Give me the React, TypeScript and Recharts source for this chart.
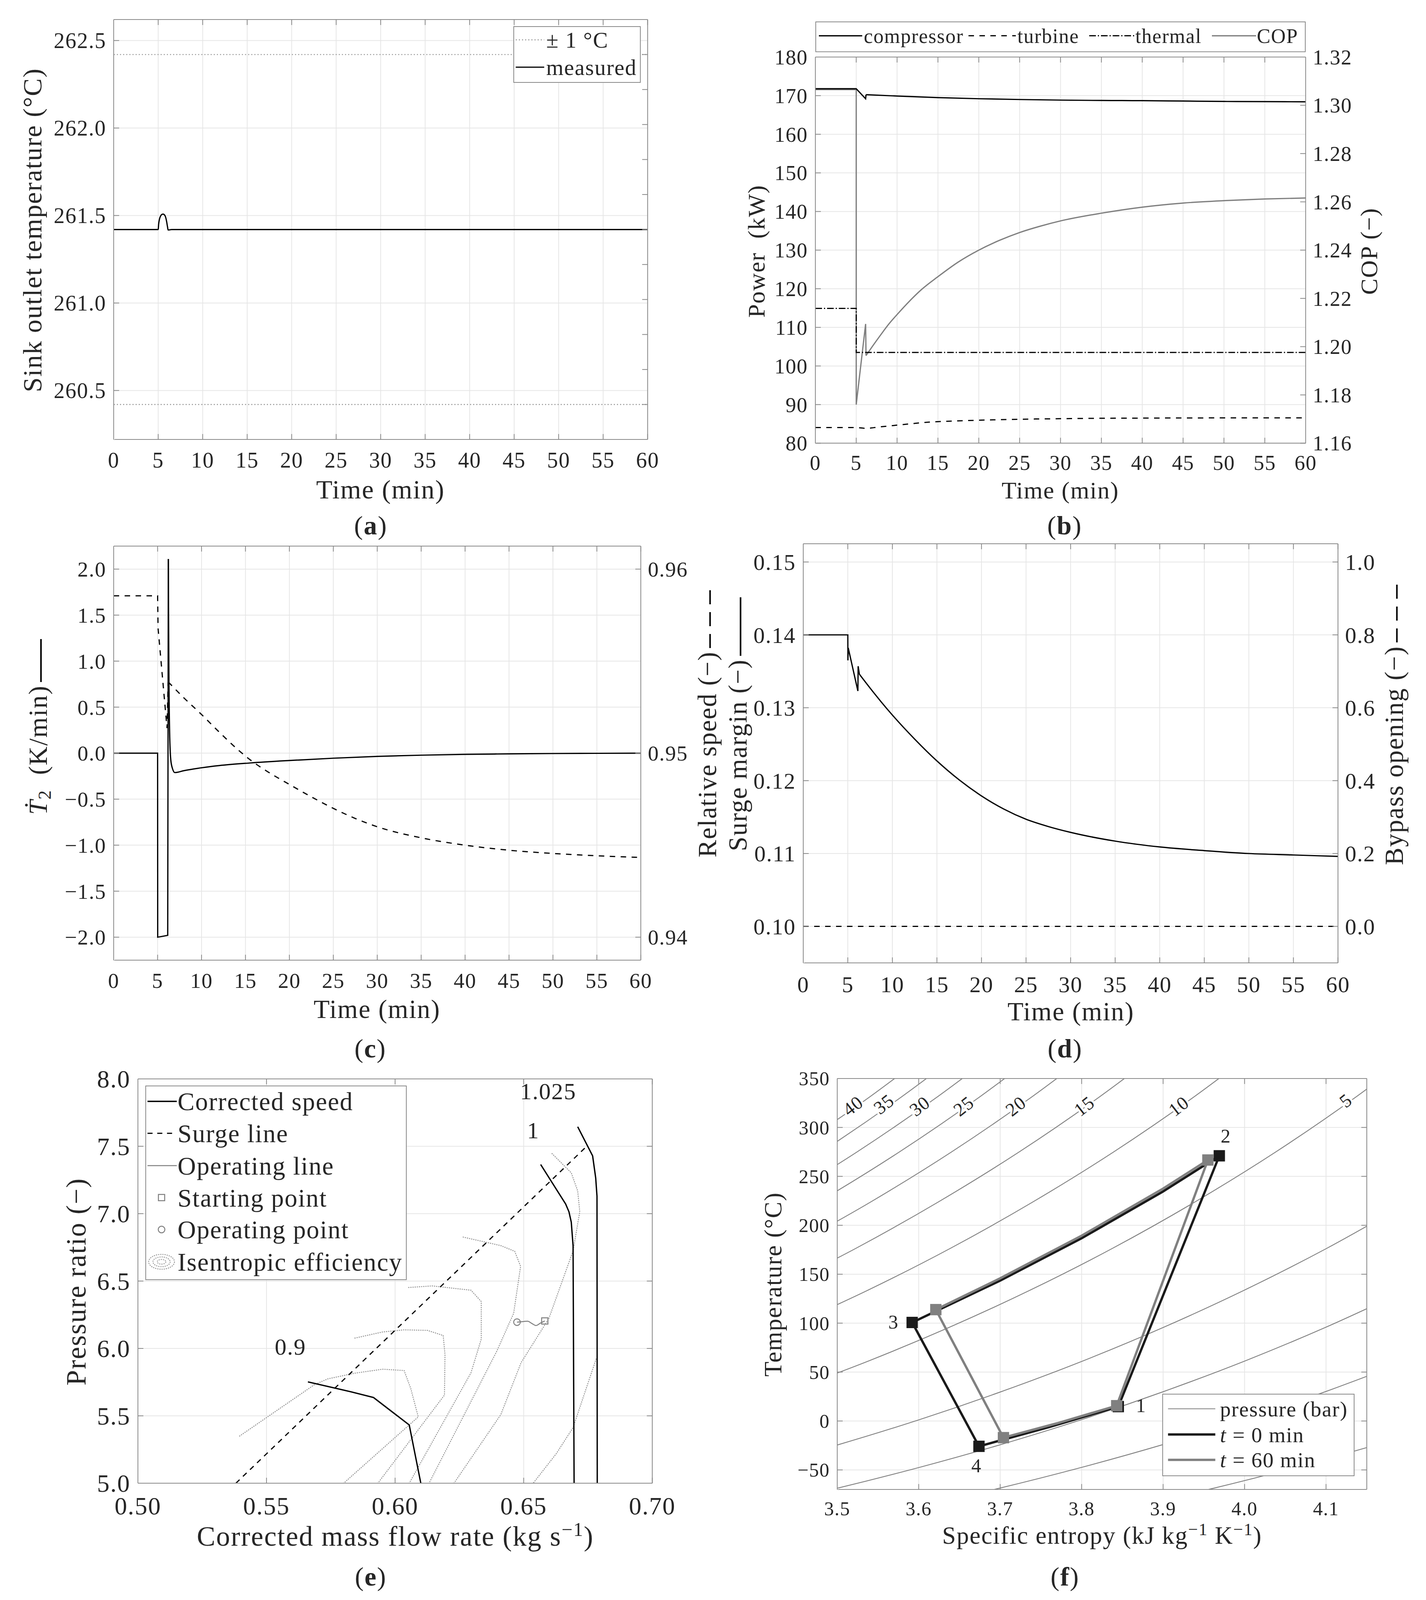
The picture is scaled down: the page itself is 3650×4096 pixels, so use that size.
import React from 'react';
import { ComposedChart, Line, XAxis, YAxis, CartesianGrid, Scatter, ReferenceDot, Legend } from 'recharts';

const FONT = "'Liberation Serif', 'Times New Roman', Times, serif";
const TXT = '#262626';
const AXC = '#8a8a8a';
const GRIDC = '#e6e6e6';
const BLK = '#000000';
const GRY = '#7f7f7f';
const LS = '0.03em';

// ================= DATA =================
const TIME_TICKS = [0, 5, 10, 15, 20, 25, 30, 35, 40, 45, 50, 55, 60];

// (a) sink outlet temperature
const A_Y_TICKS = [260.5, 261.0, 261.5, 262.0, 262.5];
const A_R_TICKS = [260.42, 260.62, 260.82, 261.02, 261.22, 261.42, 261.62, 261.82, 262.02, 262.22, 262.42];
const A_UPPER = [[0, 262.42], [60, 262.42]];
const A_LOWER = [[0, 260.42], [60, 260.42]];
const A_MEASURED = [[0, 261.42], [5.0, 261.42], [5.05, 261.45], [5.15, 261.48], [5.3, 261.5], [5.45, 261.507], [5.55, 261.508], [5.7, 261.504], [5.85, 261.488], [5.95, 261.465], [6.05, 261.435], [6.12, 261.417], [6.3, 261.418], [6.5, 261.42], [60, 261.42]];

// (b) power and COP
const B_L_TICKS = [80, 90, 100, 110, 120, 130, 140, 150, 160, 170, 180];
const B_R_TICKS = [1.16, 1.18, 1.2, 1.22, 1.24, 1.26, 1.28, 1.3, 1.32];
const B_COMPRESSOR_STEP = [[0, 171.8], [5, 171.8], [6.15, 169.2], [6.2, 170.25]];
const B_COMPRESSOR_DECAY = [[6.2, 170.25], [10, 169.9], [15, 169.5], [20, 169.2], [25, 169.0], [30, 168.85], [35, 168.75], [40, 168.7], [45, 168.6], [50, 168.5], [55, 168.45], [60, 168.4]];
const B_TURBINE = [[0, 84.05], [5, 84.05], [6.2, 83.85], [7.7, 84.18], [9.8, 84.63], [12, 85.1], [14, 85.47], [17, 85.75], [20, 85.95], [25, 86.2], [30, 86.35], [35, 86.45], [40, 86.5], [50, 86.55], [60, 86.55]];
const B_THERMAL = [[0, 114.9], [5, 114.9], [5, 103.5], [60, 103.5]];
const B_COP_STEP = [[0, 1.3065], [5, 1.3065], [5, 1.176], [6.15, 1.2094], [6.2, 1.1963]];
const B_COP_RISE = [[6.2, 1.1963], [7, 1.2002], [8, 1.2049], [9, 1.2094], [10, 1.2133], [11.5, 1.2188], [13, 1.2237], [15, 1.229], [17.5, 1.2351], [20, 1.24], [22.5, 1.244], [25, 1.2473], [27.5, 1.2499], [30, 1.2521], [35, 1.2553], [40, 1.2578], [45, 1.2595], [50, 1.2605], [55, 1.2612], [60, 1.2616]];

// (c) temperature rate and relative speed
const C_L_TICKS = [-2, -1.5, -1, -0.5, 0, 0.5, 1, 1.5, 2];
const C_R_TICKS = [0.94, 0.95, 0.96];
const C_T2DOT_STEP = [[0, 0], [5, 0], [5.01, -2.0], [6.15, -1.98], [6.22, 2.11]];
const C_T2DOT_DECAY = [[6.22, 2.11], [6.27, 1.08], [6.37, 0.215], [6.5, -0.073], [6.7, -0.17], [6.96, -0.211], [8, -0.19], [10, -0.159], [12, -0.135], [15.5, -0.107], [20, -0.08], [25, -0.055], [30, -0.035], [35, -0.022], [40, -0.013], [45, -0.008], [50, -0.004], [55, -0.002], [60, 0]];
const C_SPEED_STEP = [[0, 0.95855], [5, 0.95855], [5.05, 0.9568], [6.07, 0.95136], [6.2, 0.953875]];
const C_SPEED_DECAY = [[6.2, 0.953875], [8, 0.953], [10, 0.9521], [12, 0.95115], [14, 0.95025], [15.5, 0.94965], [17.5, 0.949], [20, 0.9483], [22.5, 0.947625], [25, 0.947], [27.5, 0.94645], [30, 0.946], [35, 0.9454], [40, 0.945], [45, 0.944725], [50, 0.94455], [55, 0.944425], [60, 0.94433]];

// (d) surge margin and bypass opening
const D_L_TICKS = [0.1, 0.11, 0.12, 0.13, 0.14, 0.15];
const D_R_TICKS = [0, 0.2, 0.4, 0.6, 0.8, 1.0];
const D_SURGE_STEP = [[0, 0.14], [5, 0.14], [5.01, 0.1365], [5.05, 0.1382], [6.13, 0.1323], [6.16, 0.1357], [6.3, 0.1346]];
const D_SURGE_DECAY = [[6.3, 0.1346], [7.5, 0.1327], [8.75, 0.1308], [10, 0.129], [12.5, 0.1257], [15, 0.1227], [17.5, 0.1201], [20, 0.1179], [22.5, 0.1161], [25, 0.1147], [27.5, 0.1137], [30, 0.1129], [35, 0.1117], [40, 0.1109], [45, 0.1104], [50, 0.11], [55, 0.1098], [60, 0.1096]];
const D_BYPASS = [[0, 0], [60, 0]];

// (e) compressor map
const E_X_TICKS = [0.5, 0.55, 0.6, 0.65, 0.7];
const E_Y_TICKS = [5, 5.5, 6, 6.5, 7, 7.5, 8];
const E_SPEED_090 = [[0.5661, 5.752], [0.5829, 5.678], [0.5916, 5.636], [0.6055, 5.432], [0.61, 5.0]];
const E_SPEED_100 = [[0.6566, 7.365], [0.6663, 7.072], [0.6676, 7.014], [0.6685, 6.937], [0.6692, 6.763], [0.6696, 5.0]];
const E_SPEED_1025 = [[0.671, 7.645], [0.6768, 7.429], [0.678, 7.265], [0.6785, 7.13], [0.6786, 5.0]];
const E_SURGE = [[0.5381, 5.0], [0.6745, 7.5]];
const E_EFF_1 = [[0.5394, 5.348], [0.5687, 5.732], [0.5738, 5.774], [0.5842, 5.816], [0.5952, 5.846], [0.6035, 5.836], [0.6061, 5.702], [0.609, 5.492], [0.58, 5.0]];
const E_EFF_2 = [[0.5842, 6.076], [0.5951, 6.122], [0.6035, 6.138], [0.6126, 6.134], [0.6187, 6.096], [0.6194, 5.954], [0.6192, 5.654], [0.5933, 5.0]];
const E_EFF_3 = [[0.6051, 6.452], [0.6144, 6.464], [0.6295, 6.432], [0.6335, 6.348], [0.6335, 6.069], [0.6295, 5.819], [0.6055, 5.0]];
const E_EFF_4 = [[0.6263, 6.827], [0.6411, 6.763], [0.6465, 6.721], [0.6488, 6.609], [0.6461, 6.261], [0.6396, 5.982], [0.6132, 5.0]];
const E_EFF_5 = [[0.6609, 7.448], [0.6685, 7.303], [0.671, 7.168], [0.6718, 7.014], [0.6692, 6.724], [0.6598, 6.223], [0.649, 5.895], [0.6411, 5.509], [0.6229, 5.0]];
const E_EFF_6 = [[0.6782, 5.924], [0.6692, 5.413], [0.6627, 5.22], [0.6537, 5.0]];
const E_OPERATING = [[0.6582, 6.204], [0.6565, 6.188], [0.6548, 6.17], [0.6533, 6.184], [0.6515, 6.202], [0.649, 6.198], [0.6474, 6.195]];
const E_START = [[0.6582, 6.204]];
const E_OPPOINT = [[0.6474, 6.195]];
const E_SPEED_LABELS: [string, number, number][] = [['1.025', 0.6595, 7.911], ['1', 0.6537, 7.621], ['0.9', 0.5593, 6.014]];

// (f) T-s diagram
const F_X_TICKS = [3.5, 3.6, 3.7, 3.8, 3.9, 4.0, 4.1];
const F_Y_TICKS = [-50, 0, 50, 100, 150, 200, 250, 300, 350];
const F_ISOBARS: number[][][] = [
  [[3.441, 274.8], [3.541, 331.9], [3.641, 394.9]],
  [[3.38, 223.3], [3.48, 274.8], [3.58, 331.9], [3.68, 394.9]],
  [[3.424, 223.3], [3.524, 274.8], [3.624, 331.9], [3.724, 394.9]],
  [[3.376, 176.5], [3.476, 223.3], [3.576, 274.8], [3.676, 331.9], [3.776, 394.9]],
  [[3.44, 176.5], [3.54, 223.3], [3.64, 274.8], [3.74, 331.9], [3.84, 394.9]],
  [[3.423, 134.2], [3.523, 176.5], [3.623, 223.3], [3.723, 274.8], [3.823, 331.9], [3.923, 394.9]],
  [[3.439, 95.9], [3.539, 134.2], [3.639, 176.5], [3.739, 223.3], [3.839, 274.8], [3.939, 331.9], [4.039, 394.9]],
  [[3.438, 29.9], [3.538, 61.2], [3.638, 95.9], [3.738, 134.2], [3.838, 176.5], [3.938, 223.3], [4.038, 274.8], [4.138, 331.9], [4.238, 394.9]],
  [[3.401, -47.6], [3.501, -24.3], [3.601, 1.4], [3.701, 29.9], [3.801, 61.2], [3.901, 95.9], [4.001, 134.2], [4.101, 176.5], [4.201, 223.3]],
  [[3.4, -87.7], [3.5, -68.7], [3.6, -47.6], [3.7, -24.3], [3.8, 1.4], [3.9, 29.9], [4.0, 61.2], [4.1, 95.9], [4.2, 134.2]],
  [[3.599, -87.7], [3.699, -68.7], [3.799, -47.6], [3.899, -24.3], [3.999, 1.4], [4.099, 29.9], [4.199, 61.2]],
  [[3.862, -87.7], [3.962, -68.7], [4.062, -47.6], [4.162, -24.3]],
];
const F_ISOBAR_LABELS: [string, number, number][] = [['40', 3.519, 322.3], ['35', 3.557, 324], ['30', 3.601, 322], ['25', 3.655, 322], ['20', 3.719, 322], ['15', 3.803, 322], ['10', 3.919, 322], ['5', 4.124, 327.7]];
const F_CYCLE_T0 = [[3.845, 14.7], [3.969, 271], [3.9, 234.6], [3.8, 186.8], [3.7, 143.5], [3.592, 100.7], [3.674, -25.9], [3.76, -6.2], [3.845, 14.7]];
const F_CYCLE_T60 = [[3.843, 15.6], [3.955, 266.7], [3.9, 237.5], [3.8, 189.4], [3.7, 145.8], [3.621, 113.8], [3.704, -17], [3.77, -2.3], [3.843, 15.6]];
const F_STATES_T0 = [[3.845, 14.7], [3.969, 271], [3.592, 100.7], [3.674, -25.9]];
const F_STATES_T60 = [[3.843, 15.6], [3.955, 266.7], [3.621, 113.8], [3.704, -17]];
const F_STATE_LABELS: [string, number, number][] = [['1', 3.873, 16], ['2', 3.977, 291.5], ['3', 3.569, 101.4], ['4', 3.671, -45.4]];

// ================= HELPERS =================
const pts = (a: number[][]) => a.map(([x, y]) => ({ x, y }));
type Fmt = ((v: number) => string) | null;
const fmt = (d: number) => (v: number) => (v < -1e-9 ? '\u2212' : '') + Math.abs(v).toFixed(d);
const TL = 14;
const txtStyle = (fs: number): React.CSSProperties => ({ fontFamily: FONT, fontSize: fs, letterSpacing: LS });

const tickBottom = (fs: number, off: number, f: Fmt) => (p: any) => (
  <g>
    <line x1={p.x} x2={p.x} y1={p.y} y2={p.y - TL} stroke={AXC} strokeWidth={2} />
    {f ? <text x={p.x} y={p.y + off} textAnchor="middle" fill={TXT} style={txtStyle(fs)}>{f(p.payload.value)}</text> : null}
  </g>
);
const tickTop = () => (p: any) => <line x1={p.x} x2={p.x} y1={p.y} y2={p.y + TL} stroke={AXC} strokeWidth={2} />;
const tickLeft = (fs: number, f: Fmt) => (p: any) => (
  <g>
    <line x1={p.x} x2={p.x + TL} y1={p.y} y2={p.y} stroke={AXC} strokeWidth={2} />
    {f ? <text x={p.x - 19} y={p.y} dy="0.35em" textAnchor="end" fill={TXT} style={txtStyle(fs)}>{f(p.payload.value)}</text> : null}
  </g>
);
const tickRight = (fs: number, f: Fmt) => (p: any) => (
  <g>
    <line x1={p.x} x2={p.x - TL} y1={p.y} y2={p.y} stroke={AXC} strokeWidth={2} />
    {f ? <text x={p.x + 18} y={p.y} dy="0.35em" textAnchor="start" fill={TXT} style={txtStyle(fs)}>{f(p.payload.value)}</text> : null}
  </g>
);

type G = { L: number; T: number; R: number; B: number; LW: number; RW: number; TH: number; XH: number; MT: number };
type AxSpec = {
  xd: [number, number]; xt: number[]; xf: Fmt; xfs: number; xoff: number;
  yd: [number, number]; yt: number[]; yf: Fmt; yfs: number;
  rd: [number, number]; rt: number[]; rf: Fmt; rfs: number;
};

function axes(g: G, a: AxSpec) {
  const axl = { stroke: AXC, strokeWidth: 2 };
  return [
    <CartesianGrid key="grid" xAxisId="b" yAxisId="l" stroke={GRIDC} strokeWidth={2} />,
    <XAxis key="xb" xAxisId="b" type="number" dataKey="x" domain={a.xd} ticks={a.xt} allowDataOverflow interval={0} height={g.XH} tickSize={0} tickMargin={0} tickLine={false} axisLine={axl} tick={tickBottom(a.xfs, a.xoff, a.xf)} />,
    <XAxis key="xt" xAxisId="t" orientation="top" type="number" dataKey="x" domain={a.xd} ticks={a.xt} allowDataOverflow interval={0} height={g.TH} tickSize={0} tickMargin={0} tickLine={false} axisLine={axl} tick={tickTop()} />,
    <YAxis key="yl" yAxisId="l" type="number" domain={a.yd} ticks={a.yt} allowDataOverflow interval={0} width={g.LW} tickSize={0} tickMargin={0} tickLine={false} axisLine={axl} tick={tickLeft(a.yfs, a.yf)} />,
    <YAxis key="yr" yAxisId="r" orientation="right" type="number" domain={a.rd} ticks={a.rt} allowDataOverflow interval={0} width={g.RW} tickSize={0} tickMargin={0} tickLine={false} axisLine={axl} tick={tickRight(a.rfs, a.rf)} />,
    <Line key="dummy" xAxisId="t" yAxisId="r" data={[{ x: a.xd[0], y: a.rd[0] }]} dataKey="y" stroke="none" dot={false} activeDot={false} isAnimationActive={false} legendType="none" />,
  ];
}

function Frame({ g, children }: { g: G; children: React.ReactNode }) {
  return (
    <div style={{ position: 'absolute', left: g.L - g.LW, top: g.T - g.TH - g.MT }}>
      <ComposedChart width={g.R - g.L + g.LW + g.RW} height={g.B - g.T + g.TH + g.XH + g.MT} margin={{ top: g.MT, right: 0, bottom: 0, left: 0 }}>
        {children}
      </ComposedChart>
    </div>
  );
}

const LBox = ({ w, h, children }: { w: number; h: number; children: React.ReactNode }) => (
  <svg width={w} height={h} style={{ display: 'block', overflow: 'visible' }}>
    <rect x={1} y={1} width={w - 2} height={h - 2} fill="#ffffff" stroke={AXC} strokeWidth={2} />
    {children}
  </svg>
);
const LText = ({ x, y, fs, children }: { x: number; y: number; fs: number; children: React.ReactNode }) => (
  <text x={x} y={y} dy="0.35em" fill={TXT} style={txtStyle(fs)}>{children}</text>
);

function HText({ x, yb, fs, children }: { x: number; yb: number; fs: number; children: React.ReactNode }) {
  return <div style={{ position: 'absolute', left: x, top: yb - 0.8375 * fs, transform: 'translateX(-50%)', fontSize: fs, lineHeight: 1, whiteSpace: 'nowrap', letterSpacing: LS, color: TXT }}>{children}</div>;
}
function VText({ cx, cy, fs, children }: { cx: number; cy: number; fs: number; children: React.ReactNode }) {
  return <div style={{ position: 'absolute', left: cx, top: cy, transform: 'translate(-50%,-50%) rotate(-90deg)', fontSize: fs, lineHeight: 1, whiteSpace: 'nowrap', letterSpacing: LS, color: TXT }}>{children}</div>;
}
function Sample({ dashed, w }: { dashed?: boolean; w: number }) {
  return (
    <svg width={w} height={10} style={{ display: 'inline-block', verticalAlign: 'middle', marginLeft: 8 }}>
      <line x1={0} x2={w} y1={5} y2={5} stroke="#000" strokeWidth={4} strokeDasharray={dashed ? '36 20' : undefined} />
    </svg>
  );
}
const Sup = ({ children }: { children: React.ReactNode }) => <span style={{ fontSize: '0.7em', verticalAlign: '0.5em', lineHeight: 0 }}>{children}</span>;

const LP = { dot: false, activeDot: false, isAnimationActive: false, xAxisId: 'b', dataKey: 'y' } as const;

const squareShape = (size: number, fill: string, stroke: string, sw: number) => (p: any) => (
  <rect x={p.cx - size / 2} y={p.cy - size / 2} width={size} height={size} fill={fill} stroke={stroke} strokeWidth={sw} />
);
const circleShape = (r: number, stroke: string, sw: number) => (p: any) => (
  <circle cx={p.cx} cy={p.cy} r={r} fill="none" stroke={stroke} strokeWidth={sw} />
);
const textShape = (label: string, fs: number, rot = 0, halo = false) => (p: any) => (
  <text x={p.cx} y={p.cy} dy="0.35em" textAnchor="middle" fill={TXT} transform={rot ? `rotate(${rot} ${p.cx} ${p.cy})` : undefined}
    stroke={halo ? '#ffffff' : undefined} strokeWidth={halo ? 10 : undefined} paintOrder="stroke" style={txtStyle(fs)}>{label}</text>
);

// ================= GEOMETRY =================
const GA: G = { L: 290.8, T: 49.7, R: 1657.5, B: 1124.8, LW: 220, RW: 60, TH: 50, XH: 110, MT: 0 };
const GB: G = { L: 2086.6, T: 145.8, R: 3341.6, B: 1134.4, LW: 220, RW: 190, TH: 50, XH: 110, MT: 70 };
const GC: G = { L: 290.8, T: 1397.8, R: 1640, B: 2457.9, LW: 220, RW: 180, TH: 50, XH: 110, MT: 0 };
const GD: G = { L: 2056.3, T: 1391.9, R: 3425, B: 2464.8, LW: 200, RW: 160, TH: 50, XH: 110, MT: 0 };
const GE: G = { L: 353.4, T: 2761.7, R: 1670, B: 3796.7, LW: 240, RW: 60, TH: 50, XH: 110, MT: 0 };
const GF: G = { L: 2143.4, T: 2760.7, R: 3498.8, B: 3812.8, LW: 200, RW: 60, TH: 50, XH: 110, MT: 0 };
const org = (g: G) => ({ x: g.L - g.LW, y: g.T - g.TH - g.MT });

// ================= PANELS =================
function PanelA() {
  const o = org(GA);
  const lg = { left: 1314.4 - o.x, top: 67.2 - o.y, width: 326, height: 145 };
  return (
    <Frame g={GA}>
      {axes(GA, { xd: [0, 60], xt: TIME_TICKS, xf: fmt(0), xfs: 56, xoff: 72, yd: [260.22, 262.62], yt: A_Y_TICKS, yf: fmt(1), yfs: 56, rd: [260.22, 262.62], rt: A_R_TICKS, rf: null, rfs: 56 })}
      <Line {...LP} yAxisId="l" data={pts(A_UPPER)} type="linear" stroke="#999999" strokeWidth={2.4} strokeDasharray="3 5" />
      <Line {...LP} yAxisId="l" data={pts(A_LOWER)} type="linear" stroke="#999999" strokeWidth={2.4} strokeDasharray="3 5" />
      <Line {...LP} yAxisId="l" data={pts(A_MEASURED)} type="monotone" stroke={BLK} strokeWidth={3.2} />
      <Legend layout="vertical" align="center" verticalAlign="middle" wrapperStyle={lg} content={() => (
        <LBox w={326} h={145}>
          <line x1={6} x2={79} y1={35} y2={35} stroke="#999999" strokeWidth={2.4} strokeDasharray="3 5" />
          <LText x={84} y={35} fs={57}>± 1 °C</LText>
          <line x1={6} x2={79} y1={105} y2={105} stroke={BLK} strokeWidth={3.2} />
          <LText x={84} y={105} fs={57}>measured</LText>
        </LBox>
      )} />
    </Frame>
  );
}

function PanelB() {
  const o = org(GB);
  const lg = { left: 2086.6 - o.x, top: 55 - o.y, width: 1255, height: 78.5 };
  const y = 36.6;
  return (
    <Frame g={GB}>
      {axes(GB, { xd: [0, 60], xt: TIME_TICKS, xf: fmt(0), xfs: 54, xoff: 68, yd: [80, 180], yt: B_L_TICKS, yf: fmt(0), yfs: 54, rd: [1.16, 1.32], rt: B_R_TICKS, rf: fmt(2), rfs: 54 })}
      <Line {...LP} yAxisId="r" data={pts(B_COP_STEP)} type="linear" stroke={GRY} strokeWidth={3.2} />
      <Line {...LP} yAxisId="r" data={pts(B_COP_RISE)} type="monotone" stroke={GRY} strokeWidth={3.2} />
      <Line {...LP} yAxisId="l" data={pts(B_THERMAL)} type="linear" stroke={BLK} strokeWidth={3} strokeDasharray="17 5 3 5" />
      <Line {...LP} yAxisId="l" data={pts(B_TURBINE)} type="monotone" stroke={BLK} strokeWidth={3} strokeDasharray="14 14" />
      <Line {...LP} yAxisId="l" data={pts(B_COMPRESSOR_STEP)} type="linear" stroke={BLK} strokeWidth={3.2} />
      <Line {...LP} yAxisId="l" data={pts(B_COMPRESSOR_DECAY)} type="monotone" stroke={BLK} strokeWidth={3.2} />
      <Legend layout="vertical" align="center" verticalAlign="middle" wrapperStyle={lg} content={() => (
        <LBox w={1255} h={78.5}>
          <line x1={9} x2={120} y1={y} y2={y} stroke={BLK} strokeWidth={3.2} />
          <LText x={124} y={y} fs={52}>compressor</LText>
          <line x1={392} x2={513} y1={y} y2={y} stroke={BLK} strokeWidth={3} strokeDasharray="14 14" />
          <LText x={517} y={y} fs={52}>turbine</LText>
          <line x1={701} x2={816} y1={y} y2={y} stroke={BLK} strokeWidth={3} strokeDasharray="17 5 3 5" />
          <LText x={819} y={y} fs={52}>thermal</LText>
          <line x1={1015} x2={1128} y1={y} y2={y} stroke={GRY} strokeWidth={3.2} />
          <LText x={1130} y={y} fs={52}>COP</LText>
        </LBox>
      )} />
    </Frame>
  );
}

function PanelC() {
  return (
    <Frame g={GC}>
      {axes(GC, { xd: [0, 60], xt: TIME_TICKS, xf: fmt(0), xfs: 55, xoff: 71, yd: [-2.25, 2.25], yt: C_L_TICKS, yf: fmt(1), yfs: 55, rd: [0.93875, 0.96125], rt: C_R_TICKS, rf: fmt(2), rfs: 55 })}
      <Line {...LP} yAxisId="r" data={pts(C_SPEED_STEP)} type="linear" stroke={BLK} strokeWidth={3} strokeDasharray="14 14" />
      <Line {...LP} yAxisId="r" data={pts(C_SPEED_DECAY)} type="monotone" stroke={BLK} strokeWidth={3} strokeDasharray="14 14" />
      <Line {...LP} yAxisId="l" data={pts(C_T2DOT_STEP)} type="linear" stroke={BLK} strokeWidth={3.2} />
      <Line {...LP} yAxisId="l" data={pts(C_T2DOT_DECAY)} type="monotone" stroke={BLK} strokeWidth={3.2} />
    </Frame>
  );
}

function PanelD() {
  return (
    <Frame g={GD}>
      {axes(GD, { xd: [0, 60], xt: TIME_TICKS, xf: fmt(0), xfs: 58, xoff: 75, yd: [0.095, 0.1525], yt: D_L_TICKS, yf: fmt(2), yfs: 58, rd: [-0.1, 1.05], rt: D_R_TICKS, rf: fmt(1), rfs: 58 })}
      <Line {...LP} yAxisId="r" data={pts(D_BYPASS)} type="linear" stroke={BLK} strokeWidth={3} strokeDasharray="14 14" />
      <Line {...LP} yAxisId="l" data={pts(D_SURGE_STEP)} type="linear" stroke={BLK} strokeWidth={3.2} />
      <Line {...LP} yAxisId="l" data={pts(D_SURGE_DECAY)} type="monotone" stroke={BLK} strokeWidth={3.2} />
    </Frame>
  );
}

function PanelE() {
  const o = org(GE);
  const lg = { left: 372.5 - o.x, top: 2779 - o.y, width: 669, height: 498 };
  const ys = [40.5, 122.2, 205, 286.8, 368.6, 451.2];
  const effs = [E_EFF_1, E_EFF_2, E_EFF_3, E_EFF_4, E_EFF_5, E_EFF_6];
  const EC = '#959595';
  return (
    <Frame g={GE}>
      {axes(GE, { xd: [0.5, 0.7], xt: E_X_TICKS, xf: fmt(2), xfs: 64, xoff: 80, yd: [5, 8], yt: E_Y_TICKS, yf: fmt(1), yfs: 64, rd: [5, 8], rt: E_Y_TICKS, rf: null, rfs: 64 })}
      {effs.map((c, i) => (
        <Line key={'eff' + i} {...LP} yAxisId="l" data={pts(c)} type="linear" stroke={EC} strokeWidth={2.4} strokeDasharray="3 2.5" />
      ))}
      <Line {...LP} yAxisId="l" data={pts(E_SURGE)} type="linear" stroke={BLK} strokeWidth={3} strokeDasharray="13 12" />
      <Line {...LP} yAxisId="l" data={pts(E_SPEED_090)} type="linear" stroke={BLK} strokeWidth={3.4} />
      <Line {...LP} yAxisId="l" data={pts(E_SPEED_100)} type="linear" stroke={BLK} strokeWidth={3.4} />
      <Line {...LP} yAxisId="l" data={pts(E_SPEED_1025)} type="linear" stroke={BLK} strokeWidth={3.4} />
      <Line {...LP} yAxisId="l" data={pts(E_OPERATING)} type="monotone" stroke={GRY} strokeWidth={2.5} />
      <Scatter xAxisId="b" yAxisId="l" data={pts(E_START)} dataKey="y" isAnimationActive={false} shape={squareShape(16, 'none', GRY, 2.5)} />
      <Scatter xAxisId="b" yAxisId="l" data={pts(E_OPPOINT)} dataKey="y" isAnimationActive={false} shape={circleShape(8.5, GRY, 2.5)} />
      {E_SPEED_LABELS.map(([t, x, y]) => (
        <ReferenceDot key={'sl' + t} xAxisId="b" yAxisId="l" x={x} y={y} r={0} shape={textShape(t, 60)} />
      ))}
      <Legend layout="vertical" align="center" verticalAlign="middle" wrapperStyle={lg} content={() => (
        <LBox w={669} h={498}>
          <line x1={5.5} x2={80.5} y1={ys[0]} y2={ys[0]} stroke={BLK} strokeWidth={3.4} />
          <LText x={82.5} y={ys[0]} fs={65}>Corrected speed</LText>
          <line x1={5.5} x2={80.5} y1={ys[1]} y2={ys[1]} stroke={BLK} strokeWidth={3} strokeDasharray="13 12" />
          <LText x={82.5} y={ys[1]} fs={65}>Surge line</LText>
          <line x1={5.5} x2={80.5} y1={ys[2]} y2={ys[2]} stroke={GRY} strokeWidth={2.5} />
          <LText x={82.5} y={ys[2]} fs={65}>Operating line</LText>
          <rect x={41.5 - 8} y={ys[3] - 8} width={16} height={16} fill="none" stroke={GRY} strokeWidth={2.5} />
          <LText x={82.5} y={ys[3]} fs={65}>Starting point</LText>
          <circle cx={41.5} cy={ys[4]} r={8.5} fill="none" stroke={GRY} strokeWidth={2.5} />
          <LText x={82.5} y={ys[4]} fs={65}>Operating point</LText>
          <ellipse cx={41.5} cy={ys[5]} rx={33} ry={19} fill="none" stroke={EC} strokeWidth={2.2} strokeDasharray="3 2.5" />
          <ellipse cx={41.5} cy={ys[5]} rx={22} ry={12.5} fill="none" stroke={EC} strokeWidth={2.2} strokeDasharray="3 2.5" />
          <ellipse cx={41.5} cy={ys[5]} rx={11} ry={6} fill="none" stroke={EC} strokeWidth={2.2} strokeDasharray="3 2.5" />
          <LText x={82.5} y={ys[5]} fs={65}>Isentropic efficiency</LText>
        </LBox>
      )} />
    </Frame>
  );
}

function PanelF() {
  const o = org(GF);
  const lg = { left: 2975 - o.x, top: 3568 - o.y, width: 492, height: 211 };
  const ys = [38.5, 104.3, 169.2];
  return (
    <Frame g={GF}>
      {axes(GF, { xd: [3.5, 4.15], xt: F_X_TICKS, xf: fmt(1), xfs: 50, xoff: 66, yd: [-70, 350], yt: F_Y_TICKS, yf: fmt(0), yfs: 50, rd: [-70, 350], rt: F_Y_TICKS, rf: null, rfs: 50 })}
      {F_ISOBARS.map((c, i) => (
        <Line key={'iso' + i} {...LP} yAxisId="l" data={pts(c)} type="monotone" stroke={GRY} strokeWidth={2.2} />
      ))}
      {F_ISOBAR_LABELS.map(([t, x, y]) => (
        <ReferenceDot key={'il' + t} xAxisId="b" yAxisId="l" x={x} y={y} r={0} shape={textShape(t, 48, -38, true)} />
      ))}
      <Line {...LP} yAxisId="l" data={pts(F_CYCLE_T0)} type="linear" stroke="#1a1a1a" strokeWidth={6} />
      <Line {...LP} yAxisId="l" data={pts(F_CYCLE_T60)} type="linear" stroke="#808080" strokeWidth={6} />
      <Scatter xAxisId="b" yAxisId="l" data={pts(F_STATES_T0)} dataKey="y" isAnimationActive={false} shape={squareShape(28, '#1a1a1a', '#1a1a1a', 1)} />
      <Scatter xAxisId="b" yAxisId="l" data={pts(F_STATES_T60)} dataKey="y" isAnimationActive={false} shape={squareShape(28, '#808080', '#808080', 1)} />
      {F_STATE_LABELS.map(([t, x, y]) => (
        <ReferenceDot key={'st' + t} xAxisId="b" yAxisId="l" x={x} y={y} r={0} shape={textShape(t, 50)} />
      ))}
      <Legend layout="vertical" align="center" verticalAlign="middle" wrapperStyle={lg} content={() => (
        <LBox w={492} h={211}>
          <line x1={14.7} x2={135.7} y1={ys[0]} y2={ys[0]} stroke={GRY} strokeWidth={2.2} />
          <LText x={147.7} y={ys[0]} fs={55}>pressure (bar)</LText>
          <line x1={14.7} x2={135.7} y1={ys[1]} y2={ys[1]} stroke="#1a1a1a" strokeWidth={6} />
          <LText x={147.7} y={ys[1]} fs={55}><tspan fontStyle="italic">t</tspan> = 0 min</LText>
          <line x1={14.7} x2={135.7} y1={ys[2]} y2={ys[2]} stroke="#808080" strokeWidth={6} />
          <LText x={147.7} y={ys[2]} fs={55}><tspan fontStyle="italic">t</tspan> = 60 min</LText>
        </LBox>
      )} />
    </Frame>
  );
}

export default function App() {
  return (
    <div style={{ position: 'absolute', left: 0, top: 0, width: 3650, height: 4096, background: '#ffffff', fontFamily: FONT, color: TXT, overflow: 'hidden' }}>
      <PanelA />
      <PanelB />
      <PanelC />
      <PanelD />
      <PanelE />
      <PanelF />

      {/* (a) */}
      <VText cx={83} cy={589} fs={68}>Sink outlet temperature (°C)</VText>
      <HText x={974} yb={1276} fs={68}>Time (min)</HText>
      <HText x={949} yb={1368} fs={68}>(<b>a</b>)</HText>

      {/* (b) */}
      <VText cx={1936} cy={643} fs={62}>Power&nbsp;&nbsp;(kW)</VText>
      <VText cx={3504} cy={643} fs={62}>COP (−)</VText>
      <HText x={2714} yb={1276} fs={62}>Time (min)</HText>
      <HText x={2725} yb={1368} fs={68}>(<b>b</b>)</HText>

      {/* (c) */}
      <VText cx={101} cy={1861} fs={67}><i>T&#x307;</i><span style={{ fontSize: '0.7em', verticalAlign: '-0.22em' }}>2</span>&nbsp;&nbsp;(K/min)<Sample w={110} /></VText>
      <VText cx={1810} cy={1852} fs={67}>Relative speed (−)<Sample dashed w={150} /></VText>
      <HText x={965} yb={2606} fs={67}>Time (min)</HText>
      <HText x={948} yb={2707} fs={68}>(<b>c</b>)</HText>

      {/* (d) */}
      <VText cx={1888} cy={1854} fs={67}>Surge margin (−)<Sample w={150} /></VText>
      <VText cx={3568} cy={1855} fs={67}>Bypass opening (−)<Sample dashed w={150} /></VText>
      <HText x={2741} yb={2612} fs={67}>Time (min)</HText>
      <HText x={2726} yb={2707} fs={68}>(<b>d</b>)</HText>

      {/* (e) */}
      <VText cx={195} cy={3281} fs={71}>Pressure ratio (−)</VText>
      <HText x={1012} yb={3957} fs={71}>Corrected mass flow rate (kg s<Sup>−1</Sup>)</HText>
      <HText x={949} yb={4059} fs={68}>(<b>e</b>)</HText>

      {/* (f) */}
      <VText cx={1979} cy={3288} fs={63}>Temperature (°C)</VText>
      <HText x={2821} yb={3953} fs={63}>Specific entropy (kJ kg<Sup>−1</Sup> K<Sup>−1</Sup>)</HText>
      <HText x={2726} yb={4059} fs={68}>(<b>f</b>)</HText>
    </div>
  );
}
